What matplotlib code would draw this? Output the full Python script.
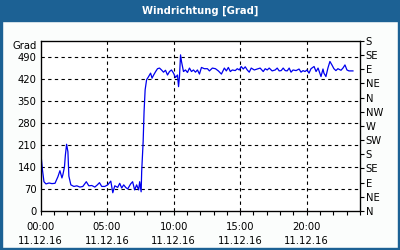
import matplotlib
matplotlib.use("Agg")
import matplotlib.pyplot as plt
from matplotlib.patches import Rectangle

title = "Windrichtung [Grad]"
unit_label = "Grad"
hours = [0.01, 0.07, 0.15, 0.26, 0.41, 0.64, 0.86, 1.09, 1.31, 1.46, 1.61, 1.68, 1.80, 1.87, 1.96,
         2.06, 2.13, 2.28, 2.51, 2.73, 2.96, 3.18, 3.44, 3.63, 3.85, 4.08, 4.27, 4.43, 4.60, 4.83,
         5.05, 5.28, 5.43, 5.58, 5.80, 5.95, 6.10, 6.25, 6.40, 6.55, 6.77, 6.92, 7.07, 7.22, 7.37,
         7.45, 7.56, 7.60, 7.71, 7.78, 7.86, 7.97, 8.12, 8.27, 8.38, 8.50, 8.65, 8.79, 8.94, 9.09,
         9.24, 9.39, 9.54, 9.69, 9.84, 9.99, 10.14, 10.29, 10.37, 10.44, 10.52, 10.59, 10.74, 10.89,
         11.04, 11.19, 11.34, 11.49, 11.64, 11.79, 11.94, 12.09, 12.31, 12.54, 12.69, 12.91, 13.14,
         13.36, 13.59, 13.81, 13.96, 14.11, 14.26, 14.41, 14.63, 14.78, 14.93, 15.08, 15.23, 15.38,
         15.53, 15.68, 15.83, 16.06, 16.28, 16.50, 16.73, 16.88, 17.03, 17.18, 17.40, 17.63, 17.78,
         17.93, 18.08, 18.23, 18.38, 18.53, 18.68, 18.82, 18.97, 19.20, 19.42, 19.57, 19.72, 19.87,
         20.02, 20.17, 20.32, 20.55, 20.70, 20.85, 21.07, 21.22, 21.29, 21.44, 21.59, 21.74, 21.89,
         22.04, 22.19, 22.34, 22.57, 22.72, 22.87, 23.02, 23.17, 23.47]
direction = [109, 164, 130, 93, 86, 89, 87, 88, 109, 128, 105, 115, 140, 178, 212,
             188, 111, 83, 78, 80, 76, 78, 93, 80, 81, 76, 83, 90, 78, 78,
             83, 95, 58, 80, 75, 88, 73, 83, 75, 70, 86, 93, 67, 83, 67,
             93, 61, 125, 220, 316, 385, 417, 427, 438, 422, 432, 443, 452, 454, 448,
             441, 447, 432, 443, 448, 438, 424, 432, 395, 427, 496, 475, 443, 448,
             440, 454, 443, 448, 441, 448, 435, 456, 452, 452, 445, 454, 452,
             445, 435, 454, 445, 456, 443, 448, 446, 452, 448, 459, 451, 458,
             448, 441, 454, 448, 451, 454, 443, 452, 448, 454, 445, 448, 454,
             445, 446, 454, 446, 445, 454, 441, 448, 446, 451, 441, 446, 443,
             448, 438, 452, 459, 443, 454, 427, 451, 438, 427, 454, 475, 464,
             452, 446, 452, 447, 454, 464, 448, 445, 445]

y_ticks = [0, 70, 140, 210, 280, 350, 420, 490]
compass_ticks = [0, 45, 90, 135, 180, 225, 270, 315, 360, 405, 450, 495, 540]
compass_labels = ["N", "NE", "E", "SE", "S", "SW", "W", "NW", "N", "NE", "E", "SE", "S"]
x_major = [0, 5, 10, 15, 20]
x_labels = ["00:00\n11.12.16", "05:00\n11.12.16", "10:00\n11.12.16", "15:00\n11.12.16", "20:00\n11.12.16"]
x_minor = list(range(0, 25))

W, H = 400, 250
blue = "#1c6194"
bg = "#fbfdfc"
fig = plt.figure(figsize=(W / 100, H / 100), dpi=100, facecolor=bg)
plt.rcParams["font.family"] = ["DejaVu Sans"]

# frame and title bar
fig.patches.append(Rectangle((0, 1 - 21 / H), 1, 21 / H, transform=fig.transFigure, color=blue, zorder=0))
fig.patches.append(Rectangle((0, 0), 2 / W, 1, transform=fig.transFigure, color=blue, zorder=0))
fig.patches.append(Rectangle((1 - 2 / W, 0), 2 / W, 1, transform=fig.transFigure, color=blue, zorder=0))
fig.patches.append(Rectangle((0, 0), 1, 2 / H, transform=fig.transFigure, color=blue, zorder=0))
fig.text(0.5, 1 - 10.5 / H, title, color="white", fontsize=7.2, fontweight="bold", ha="center", va="center")

left, right, top, bottom = 40.5, 360, 41, 211
ax = fig.add_axes([left / W, (H - bottom) / H, (right - left) / W, (bottom - top) / H])
ax.set_facecolor("white")
ax.plot(hours, direction, color="#0000ee", lw=0.9)
ax.set_xlim(0, 24)
ax.set_ylim(0, 540)

ax.set_yticks(y_ticks)
ax.set_yticklabels([str(v) for v in y_ticks], fontsize=7.2)
ax.tick_params(axis="y", length=0, pad=3)
ax.set_xticks(x_major)
ax.set_xticklabels(x_labels, fontsize=7.2, linespacing=1.45)
ax.set_xticks(x_minor, minor=True)
ax.tick_params(axis="x", which="both", length=3, width=0.8, direction="out", pad=5)

for v in y_ticks[1:]:
    ax.axhline(v, color="black", lw=0.8, ls=(0, (3, 3)), zorder=1)
for v in x_major[1:]:
    ax.axvline(v, color="black", lw=0.8, ls=(0, (3, 3)), zorder=1)

for s in ax.spines.values():
    s.set_linewidth(0.9)

ax2 = ax.twinx()
ax2.set_ylim(0, 540)
ax2.set_yticks(compass_ticks)
ax2.set_yticklabels(compass_labels, fontsize=7.2)
ax2.tick_params(axis="y", length=3, width=0.8, pad=1)

fig.text(37 / W, 1 - 46 / H, unit_label, fontsize=7.2, ha="right", va="center")

fig.savefig("out.png", dpi=100, facecolor=bg)
